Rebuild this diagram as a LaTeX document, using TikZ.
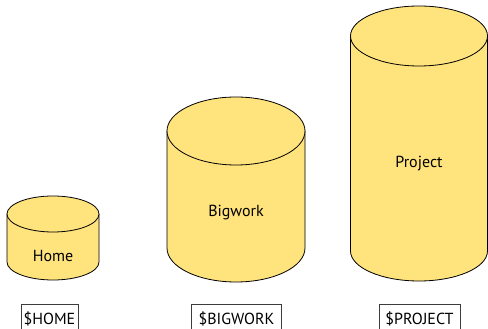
\documentclass[tikz,border=0pt]{standalone}
\usepackage{fontspec}
\setmainfont{PT Sans}
\definecolor{drumyellow}{RGB}{255,227,125}
\definecolor{boxgray}{RGB}{60,60,60}
\tikzset{
  drum/.style={fill=drumyellow, draw=black, line width=0.8pt},
  drumlabel/.style={font=\fontsize{16}{18}\selectfont, text=black, inner sep=0pt},
  varbox/.style={draw=boxgray, fill=white, line width=0.8pt, inner sep=0pt,
    minimum height=28pt, font=\fontsize{16}{18}\selectfont, text=black}
}
\begin{document}
\begin{tikzpicture}[x=1pt, y=1pt]
  \useasboundingbox (0,0) rectangle (488,329);

  % Home volume
  \filldraw[drum] (7,115) -- (7,67) arc[start angle=180, end angle=360, x radius=46, y radius=18] -- (99,115);
  \filldraw[drum] (53,115) ellipse[x radius=46, y radius=18];
  \node[drumlabel] (home) at (53,73) {Home};

  % Bigwork volume
  \filldraw[drum] (167,198) -- (167,81) arc[start angle=180, end angle=360, x radius=69, y radius=34] -- (305,198);
  \filldraw[drum] (236,198) ellipse[x radius=69, y radius=34];
  \node[drumlabel] (bigwork) at (236,116) {Bigwork};

  % Project volume
  \filldraw[drum] (350.5,293) -- (350.5,78) arc[start angle=180, end angle=360, x radius=68.5, y radius=30] -- (487.5,293);
  \filldraw[drum] (419,293) ellipse[x radius=68.5, y radius=30];
  \node[drumlabel] (project) at (419,165) {Project};

  % environment variable names
  \node[varbox, minimum width=57pt] (homevar) at (49.5,10.5) {\$HOME};
  \node[varbox, minimum width=90pt] (bigworkvar) at (236.5,10.5) {\$BIGWORK};
  \node[varbox, minimum width=81pt] (projectvar) at (419.5,10.5) {\$PROJECT};
\end{tikzpicture}
\end{document}
